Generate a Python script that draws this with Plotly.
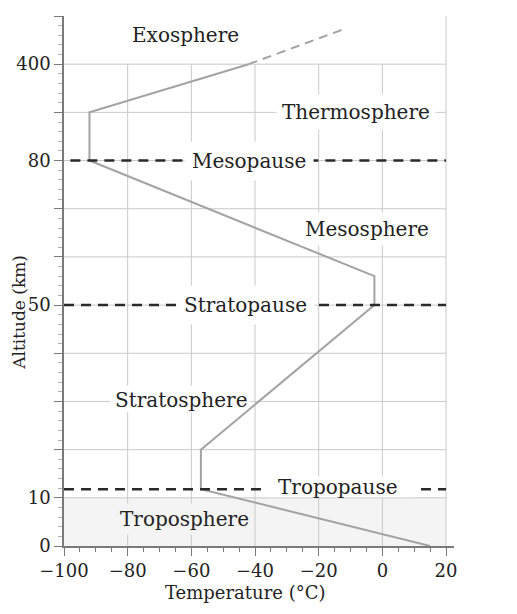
import plotly.graph_objects as go

# Temperature profile (altitude on a broken axis: 0-80 km linear, 80-400 km squeezed into 80-100)
temp_solid = [15, -57, -57, -2.5, -2.5, -92, -92, -42]
alt_solid = [0, 11.8, 20, 50, 56, 80, 90, 100]
temp_dashed = [-42, -12]
alt_dashed = [100, 107.3]

# boundaries (dashed black lines)
pause_alt = [11.8, 50, 80]
pause_x0 = [-100, -100, -98]

# layer names
layer_names = ['Exosphere', 'Thermosphere', 'Mesopause', 'Mesosphere',
               'Stratopause', 'Stratosphere', 'Tropopause', 'Troposphere']
layer_x = [-61.7, -8.3, -41.9, -4.8, -43.1, -63.4, -13.9, -62.3]
layer_y = [106, 90, 80, 65.8, 50, 30.3, 12.2, 5.6]

y_tickvals = [0, 10, 20, 30, 40, 50, 60, 70, 80, 90, 100, 110]
y_ticktext = ['0', '10', '', '', '', '50', '', '', '80', '', '400', '']
x_tickvals = [-100, -80, -60, -40, -20, 0, 20]
x_ticktext = ['\u2212100', '\u221280', '\u221260', '\u221240', '\u221220', '0', '20']

FONT = 'DejaVu Serif'
GRID = '#c9c9c9'
AXIS = '#7a7a7a'
SHADE = '#f4f4f4'

fig = go.Figure()

# troposphere shading
fig.add_shape(type='rect', x0=-100, x1=20, y0=0, y1=10, xref='x', yref='y',
              fillcolor=SHADE, line_width=0, layer='below')

# grid
for gx in x_tickvals[1:]:
    fig.add_shape(type='line', x0=gx, x1=gx, y0=0, y1=100, xref='x', yref='y',
                  line=dict(color=GRID, width=1), layer='below')
fig.add_shape(type='line', x0=20, x1=20, y0=100, y1=110, xref='x', yref='y',
              line=dict(color=GRID, width=1), layer='below')
for gy in y_tickvals[1:-1]:
    fig.add_shape(type='line', x0=-100, x1=20, y0=gy, y1=gy, xref='x', yref='y',
                  line=dict(color=GRID, width=1), layer='below')

# knock the grid out behind "Stratosphere" but keep the profile line on top
fig.add_shape(type='rect', x0=-85.5, x1=-41.5, y0=27.8, y1=33.3, xref='x', yref='y',
              fillcolor='white', line_width=0, layer='below')

fig.add_trace(go.Scatter(x=temp_solid, y=alt_solid, mode='lines',
                         line=dict(color='#a3a3a3', width=2), showlegend=False))
fig.add_trace(go.Scatter(x=temp_dashed, y=alt_dashed, mode='lines',
                         line=dict(color='#a3a3a3', width=2, dash='9px,6px'), showlegend=False))

for a, x0 in zip(pause_alt, pause_x0):
    fig.add_shape(type='line', x0=x0, x1=20, y0=a, y1=a, xref='x', yref='y',
                  line=dict(color='#2a2a2a', width=2.5, dash='10px,7px'))

# white gap in the tropopause line (box must not spill onto the shading)
fig.add_shape(type='rect', x0=-36, x1=10, y0=10.1, y1=14.4, xref='x', yref='y',
              fillcolor='white', line_width=0, layer='above')

pads = {'Mesopause': 7, 'Stratopause': 7, 'Thermosphere': 5, 'Mesosphere': 4}
for name, lx, ly in zip(layer_names, layer_x, layer_y):
    if name == 'Troposphere':
        bg = SHADE
    elif name in ('Tropopause', 'Exosphere', 'Stratosphere'):
        bg = 'rgba(0,0,0,0)'
    else:
        bg = 'white'
    fig.add_annotation(x=lx, y=ly, text=name, showarrow=False,
                       font=dict(family=FONT, size=20, color='#222'),
                       bgcolor=bg, borderpad=pads.get(name, 3))

# axis titles
fig.add_annotation(x=-43, y=0, xref='x', yref='y domain', yshift=-46,
                   xanchor='center', yanchor='middle',
                   text='Temperature (°C)', showarrow=False,
                   font=dict(family=FONT, size=18, color='#222'))
fig.add_annotation(x=0, y=48.4, xref='x domain', yref='y', xshift=-45, textangle=-90,
                   xanchor='center', yanchor='middle',
                   text='Altitude (km)', showarrow=False,
                   font=dict(family=FONT, size=17, color='#222'))

# page body has an 8px default margin, so the figure is trimmed by 8px
fig.update_layout(
    width=509, height=606,
    margin=dict(l=56, r=63, t=8, b=68, autoexpand=False),
    plot_bgcolor='white', paper_bgcolor='white',
    font=dict(family=FONT, size=18, color='#222'),
    xaxis=dict(range=[-100, 22.5], tickmode='array', tickvals=x_tickvals, ticktext=x_ticktext,
               tickfont=dict(family=FONT, size=18, color='#222'), automargin=False,
               ticks='outside', ticklen=8, tickcolor=AXIS, showgrid=False, zeroline=False,
               showline=True, linecolor=AXIS, linewidth=1.5,
               minor=dict(tickmode='linear', tick0=0, dtick=5, ticks='outside', ticklen=4,
                          tickcolor=AXIS, showgrid=False)),
    yaxis=dict(range=[0, 110], tickmode='array', tickvals=y_tickvals, ticktext=y_ticktext,
               tickfont=dict(family=FONT, size=18, color='#222'), automargin=False,
               ticks='outside', ticklen=8, tickcolor=AXIS, showgrid=False, zeroline=False,
               showline=True, linecolor=AXIS, linewidth=1.5,
               minor=dict(tickmode='linear', tick0=0, dtick=2, ticks='outside', ticklen=4,
                          tickcolor='#b0b0b0', showgrid=False)),
)

fig.write_html('out.html')
